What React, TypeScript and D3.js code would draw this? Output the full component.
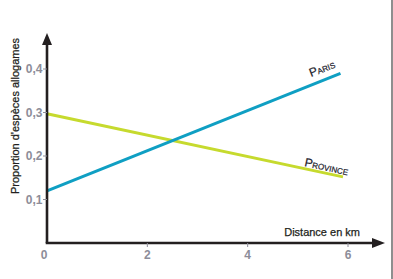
import React from "react";
import * as d3 from "d3";

const seriesNames = ["PARIS", "PROVINCE"];
const parisX = [0, 5.85];
const parisY = [0.12, 0.39];
const provinceX = [0, 5.9];
const provinceY = [0.297, 0.152];
const xTicks = [0, 2, 4, 6];
const yTicks = [0.1, 0.2, 0.3, 0.4];
const xTickLabels = ["0", "2", "4", "6"];
const yTickLabels = ["0,1", "0,2", "0,3", "0,4"];

const W = 393;
const H = 279;
const BLUE = "#0f9fc3";
const LIME = "#c6da2e";
const AXIS = "#231f20";
const GREY = "#8d8d99";
const FONT = "'Liberation Sans', Arial, sans-serif";

export default function App() {
  const x = d3.scaleLinear().domain([0, 6]).range([47, 348]);
  const y = d3.scaleLinear().domain([0, 0.4]).range([243, 69]);
  const line = d3
    .line<[number, number]>()
    .x((d) => x(d[0]))
    .y((d) => y(d[1]));
  const paris = parisX.map((v, i) => [v, parisY[i]] as [number, number]);
  const province = provinceX.map((v, i) => [v, provinceY[i]] as [number, number]);
  const x0 = x(0);
  const y0 = y(0);

  const smallCaps = (name: string, big: number, small: number) => (
    <>
      <tspan fontSize={big}>{name[0]}</tspan>
      <tspan fontSize={small}>{name.slice(1)}</tspan>
    </>
  );

  return (
    <svg
      width={W}
      height={H}
      style={{ position: "absolute", left: 0, top: 0, background: "#fff" }}
      fontFamily={FONT}
    >
      <line x1={392} y1={0} x2={392} y2={H} stroke="#444" strokeWidth={1.2} />
      {/* series */}
      <path d={line(province) || ""} stroke={LIME} strokeWidth={3} fill="none" />
      <path d={line(paris) || ""} stroke={BLUE} strokeWidth={3} fill="none" />
      {/* axes */}
      <line x1={x0} y1={y0} x2={x0} y2={42} stroke={AXIS} strokeWidth={2.6} />
      <path d={`M${x0},33 L${x0 - 5},45 L${x0 + 5},45 Z`} fill={AXIS} />
      <line x1={x0 - 1.3} y1={y0} x2={374} y2={y0} stroke={AXIS} strokeWidth={2.6} />
      <path d={`M385,${y0} L372,${y0 - 5} L372,${y0 + 5} Z`} fill={AXIS} />
      {yTicks.map((t, i) => (
        <g key={"y" + i}>
          <line x1={x0 - 4} x2={x0} y1={y(t)} y2={y(t)} stroke={GREY} strokeWidth={1} />
          <text
            x={x0 - 4.5}
            y={y(t)}
            dy="0.35em"
            textAnchor="end"
            fontSize={12}
            fontWeight="bold"
            fill={GREY}
          >
            {yTickLabels[i]}
          </text>
        </g>
      ))}
      {xTicks.map((t, i) => (
        <g key={"x" + i}>
          {t !== 0 && (
            <line x1={x(t)} x2={x(t)} y1={y0} y2={y0 + 4} stroke={GREY} strokeWidth={1} />
          )}
          <text
            x={t === 0 ? x(t) - 3 : x(t)}
            y={y0 + 16}
            textAnchor="middle"
            fontSize={12}
            fontWeight="bold"
            fill={GREY}
          >
            {xTickLabels[i]}
          </text>
        </g>
      ))}
      <text
        x={360}
        y={236}
        textAnchor="end"
        fontSize={11}
        fill={AXIS}
        stroke={AXIS}
        strokeWidth={0.25}
      >
        Distance en km
      </text>
      <text
        transform={`translate(19,116) rotate(-90)`}
        textAnchor="middle"
        fontSize={11}
        fill={AXIS}
        stroke={AXIS}
        strokeWidth={0.25}
      >
        Proportion d'espèces allogames
      </text>
      <text
        transform={`translate(311,77) rotate(-21)`}
        fill="#1c1c2c"
        stroke="#1c1c2c"
        strokeWidth={0.2}
      >
        {smallCaps(seriesNames[0], 12, 8)}
      </text>
      <text
        transform={`translate(304,166) rotate(12)`}
        fill="#1c1c2c"
        stroke="#1c1c2c"
        strokeWidth={0.2}
      >
        {smallCaps(seriesNames[1], 12, 8)}
      </text>
    </svg>
  );
}
